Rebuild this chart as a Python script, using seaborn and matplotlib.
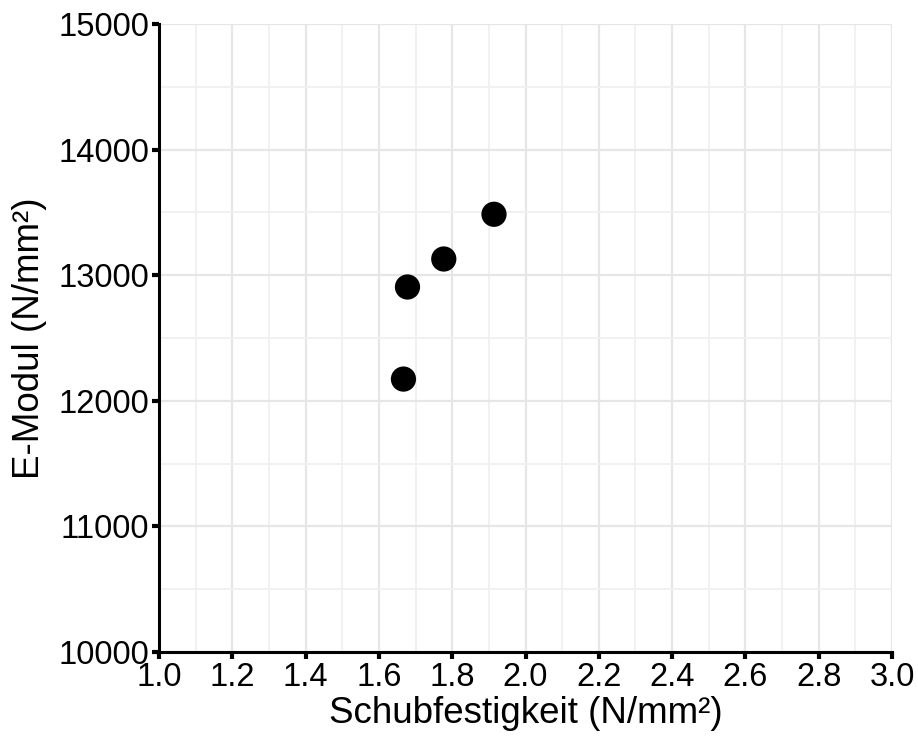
import matplotlib
matplotlib.use("Agg")
import matplotlib.pyplot as plt
import seaborn as sns
import pandas as pd
from matplotlib.ticker import MultipleLocator

# Messwerte
schubfestigkeit = [1.667, 1.678, 1.777, 1.914]
e_modul = [12173, 12906, 13129, 13485]

df = pd.DataFrame({"Schubfestigkeit": schubfestigkeit, "E-Modul": e_modul})

sns.set_style("white")
plt.rcParams["font.family"] = ["Liberation Sans", "DejaVu Sans"]
plt.rcParams["text.color"] = "black"
plt.rcParams["axes.labelcolor"] = "black"
plt.rcParams["xtick.color"] = "black"
plt.rcParams["ytick.color"] = "black"

fig = plt.figure(figsize=(9.18, 7.38), dpi=100)
ax = fig.add_axes([0.1732, 0.1165, 0.7985, 0.851])

sns.scatterplot(data=df, x="Schubfestigkeit", y="E-Modul", ax=ax,
                color="black", s=330, edgecolor="none", zorder=3)

ax.set_xlim(1.0, 3.0)
ax.set_ylim(10000, 15000)
ax.xaxis.set_major_locator(MultipleLocator(0.2))
ax.xaxis.set_minor_locator(MultipleLocator(0.1))
ax.yaxis.set_major_locator(MultipleLocator(1000))
ax.yaxis.set_minor_locator(MultipleLocator(500))
ax.xaxis.set_major_formatter(plt.FormatStrFormatter("%.1f"))

ax.grid(which="major", color="#e6e6e6", linewidth=1.6)
ax.grid(which="minor", color="#f0f0f0", linewidth=1.3)
ax.set_axisbelow(True)

for s in ["top", "right"]:
    ax.spines[s].set_visible(False)
for s in ["left", "bottom"]:
    ax.spines[s].set_color("black")
    ax.spines[s].set_linewidth(2.2)

ax.tick_params(which="major", direction="out", length=5, width=3, color="black",
               labelcolor="black", labelsize=23.5, pad=2, bottom=True, left=True)
ax.tick_params(which="minor", length=0)

ax.set_xlabel("Schubfestigkeit (N/mm²)", fontsize=26.5, labelpad=2, color="black")
ax.set_ylabel("E-Modul (N/mm²)", fontsize=26.5, labelpad=8, color="black")

fig.savefig("out.png", dpi=100)
